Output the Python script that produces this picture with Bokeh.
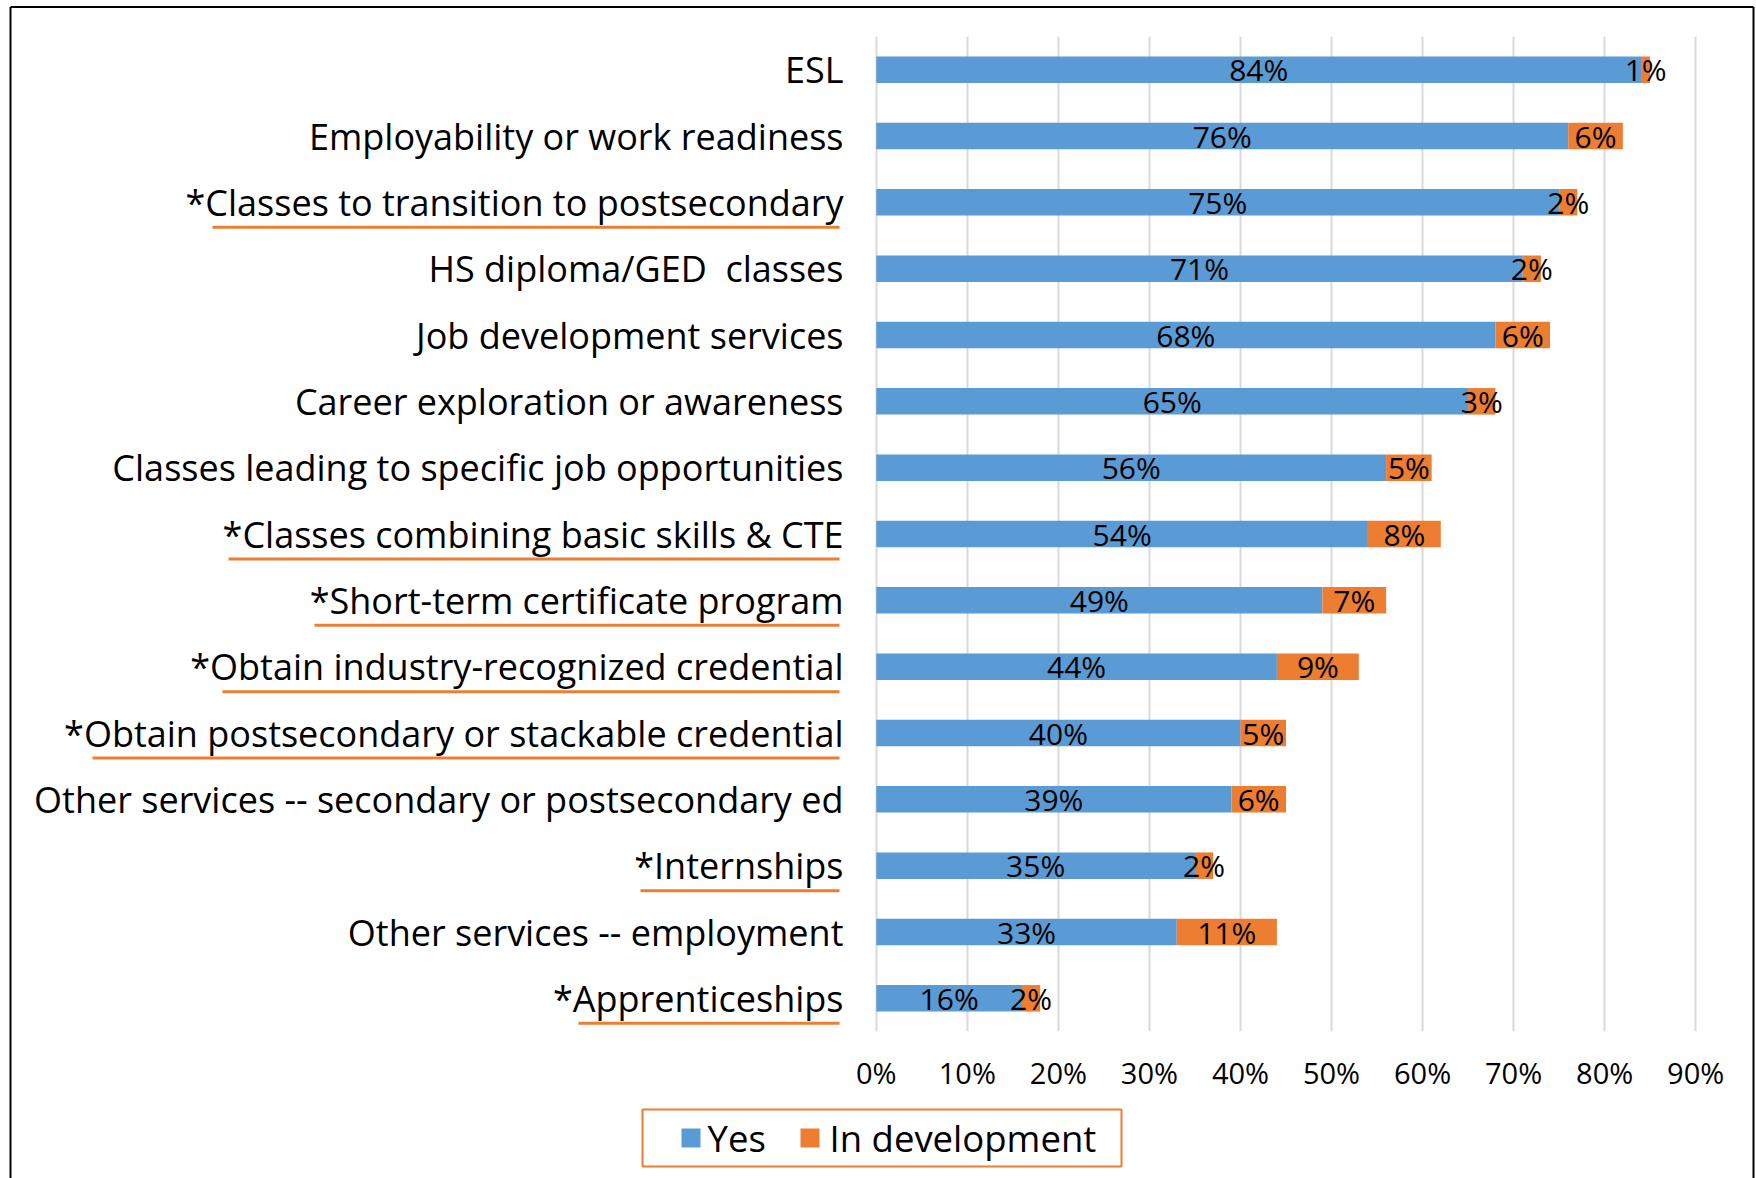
from bokeh.plotting import figure
from bokeh.models import FactorRange, Range1d, FixedTicker, PrintfTickFormatter, ColumnDataSource
from bokeh.core.properties import value
from bokeh.embed import file_html
from bokeh.resources import INLINE

# ---------------- data ----------------
categories = [
    "ESL",
    "Employability or work readiness",
    "*Classes to transition to postsecondary",
    "HS diploma/GED\u00a0 classes",
    "Job development services",
    "Career exploration or awareness",
    "Classes leading to specific job opportunities",
    "*Classes combining basic skills & CTE",
    "*Short-term certificate program",
    "*Obtain industry-recognized credential",
    "*Obtain postsecondary or stackable credential",
    "Other services -- secondary or postsecondary ed",
    "*Internships",
    "Other services -- employment",
    "*Apprenticeships",
]
yes = [84, 76, 75, 71, 68, 65, 56, 54, 49, 44, 40, 39, 35, 33, 16]
in_development = [1, 6, 2, 2, 6, 3, 5, 8, 7, 9, 5, 6, 2, 11, 2]
series_names = ["Yes", "In development"]
x_ticks = [0, 10, 20, 30, 40, 50, 60, 70, 80, 90]

# ---------------- style ----------------
BLUE = "#5B9BD5"
ORANGE = "#ED7D31"
series_colors = [BLUE, ORANGE]
FONT = "Open Sans"
W, H = 1756, 1178
ML, MT = 874, 36
FRAME_W = 823
FRAME_H = 995
MR = W - ML - FRAME_W
MB = H - MT - FRAME_H
X0, X1 = -0.2, 90.2
N = len(categories)

# underline decoration (pixel start of each orange underline)
underline_start_px = {
    "*Classes to transition to postsecondary": 212,
    "*Classes combining basic skills & CTE": 228,
    "*Short-term certificate program": 314,
    "*Obtain industry-recognized credential": 222,
    "*Obtain postsecondary or stackable credential": 92,
    "*Internships": 640,
    "*Apprenticeships": 578,
}
UNDERLINE_END_PX = 839
UNDERLINE_DROP_PX = 25

# legend layout (pixels)
LEG_BOX = (642, 1121, 1109, 1166)      # left, right, top, bottom
LEG_SWATCH_LEFT = [681, 800]
LEG_TEXT_LEFT = [707, 829]
LEG_SWATCH = 19
LEG_CY = 1137.5


def px_x(px):  # canvas pixel -> x data
    return (px - ML) / (FRAME_W / (X1 - X0)) + X0


def px_y(py):  # canvas pixel -> y synthetic coordinate
    return (MT + FRAME_H - py) / (FRAME_H / N)


factors = list(reversed(categories))

src = ColumnDataSource(dict(
    cat=categories,
    yes=yes,
    dev=in_development,
    yes_mid=[v / 2 for v in yes],
    dev_mid=[v + d / 2 for v, d in zip(yes, in_development)],
    yes_lbl=[f"{v}%" for v in yes],
    dev_lbl=[f"{d}%" for d in in_development],
))

p = figure(
    width=W, height=H,
    y_range=FactorRange(factors=factors, range_padding=0, factor_padding=0),
    x_range=Range1d(X0, X1),
    output_backend="svg", toolbar_location=None,
    min_border_left=ML, min_border_right=MR, min_border_top=MT, min_border_bottom=MB,
)
p.outline_line_color = None
p.background_fill_color = "white"
p.border_fill_color = "white"

bars = p.hbar_stack(["yes", "dev"], y="cat", height=0.40, color=series_colors,
                    source=src, line_color=None)

label_kw = dict(text_font=value(FONT), text_font_size=value("30px"),
                text_align="center", text_baseline="middle", text_color="#000000")
p.text(x="yes_mid", y="cat", text="yes_lbl", source=src, **label_kw)
p.text(x="dev_mid", y="cat", text="dev_lbl", source=src, **label_kw)

# axes
p.xaxis.ticker = FixedTicker(ticks=x_ticks)
p.xaxis.formatter = PrintfTickFormatter(format="%d%%")
p.xaxis.axis_line_color = None
p.xaxis.major_tick_line_color = None
p.xaxis.minor_tick_line_color = None
p.xaxis.major_label_text_font = FONT
p.xaxis.major_label_text_font_size = "29px"
p.xaxis.major_label_text_color = "#000000"
p.xaxis.major_label_standoff = 15

p.yaxis.axis_line_color = None
p.yaxis.major_tick_line_color = None
p.yaxis.minor_tick_line_color = None
p.yaxis.major_label_text_font = FONT
p.yaxis.major_label_text_font_size = "36px"
p.yaxis.major_label_text_color = "#000000"
p.yaxis.major_label_standoff = 25

p.ygrid.grid_line_color = None
p.xgrid.grid_line_color = "#D9D9D9"
p.xgrid.grid_line_width = 2

# underlines under starred categories
ul_cats = list(underline_start_px.keys())
drop = UNDERLINE_DROP_PX / (FRAME_H / N)
ul_y = [factors.index(c) + 0.5 - drop for c in ul_cats]
p.segment(x0=[px_x(underline_start_px[c]) for c in ul_cats],
          x1=[px_x(UNDERLINE_END_PX)] * len(ul_cats),
          y0=ul_y, y1=ul_y, line_color=ORANGE, line_width=3, level="overlay")

# outer chart border
bx0, bx1 = px_x(10), px_x(1753)
by0, by1 = px_y(6.5), px_y(1250)
p.segment(x0=[bx0, bx0, bx1], x1=[bx1, bx0, bx1], y0=[by0, by0, by0], y1=[by0, by1, by1],
          line_color="#000000", line_width=2, level="overlay")

# legend (below the axis): frame, swatches, labels
p.quad(left=[px_x(LEG_BOX[0])], right=[px_x(LEG_BOX[1])],
       top=[px_y(LEG_BOX[2])], bottom=[px_y(LEG_BOX[3])],
       fill_color="white", line_color=ORANGE, line_width=2, level="overlay")
leg_src = ColumnDataSource(dict(
    name=series_names,
    color=series_colors,
    sl=[px_x(v) for v in LEG_SWATCH_LEFT],
    sr=[px_x(v + LEG_SWATCH) for v in LEG_SWATCH_LEFT],
    st=[px_y(LEG_CY - LEG_SWATCH / 2)] * 2,
    sb=[px_y(LEG_CY + LEG_SWATCH / 2)] * 2,
    tx=[px_x(v) for v in LEG_TEXT_LEFT],
    ty=[px_y(LEG_CY)] * 2,
))
p.quad(left="sl", right="sr", top="st", bottom="sb", fill_color="color",
       line_color=None, source=leg_src, level="overlay")
p.text(x="tx", y="ty", text="name", source=leg_src, level="overlay",
       text_font=value(FONT), text_font_size=value("36.5px"),
       text_align="left", text_baseline="middle", text_color="#000000")

open("out.html", "w").write(file_html(p, INLINE))
